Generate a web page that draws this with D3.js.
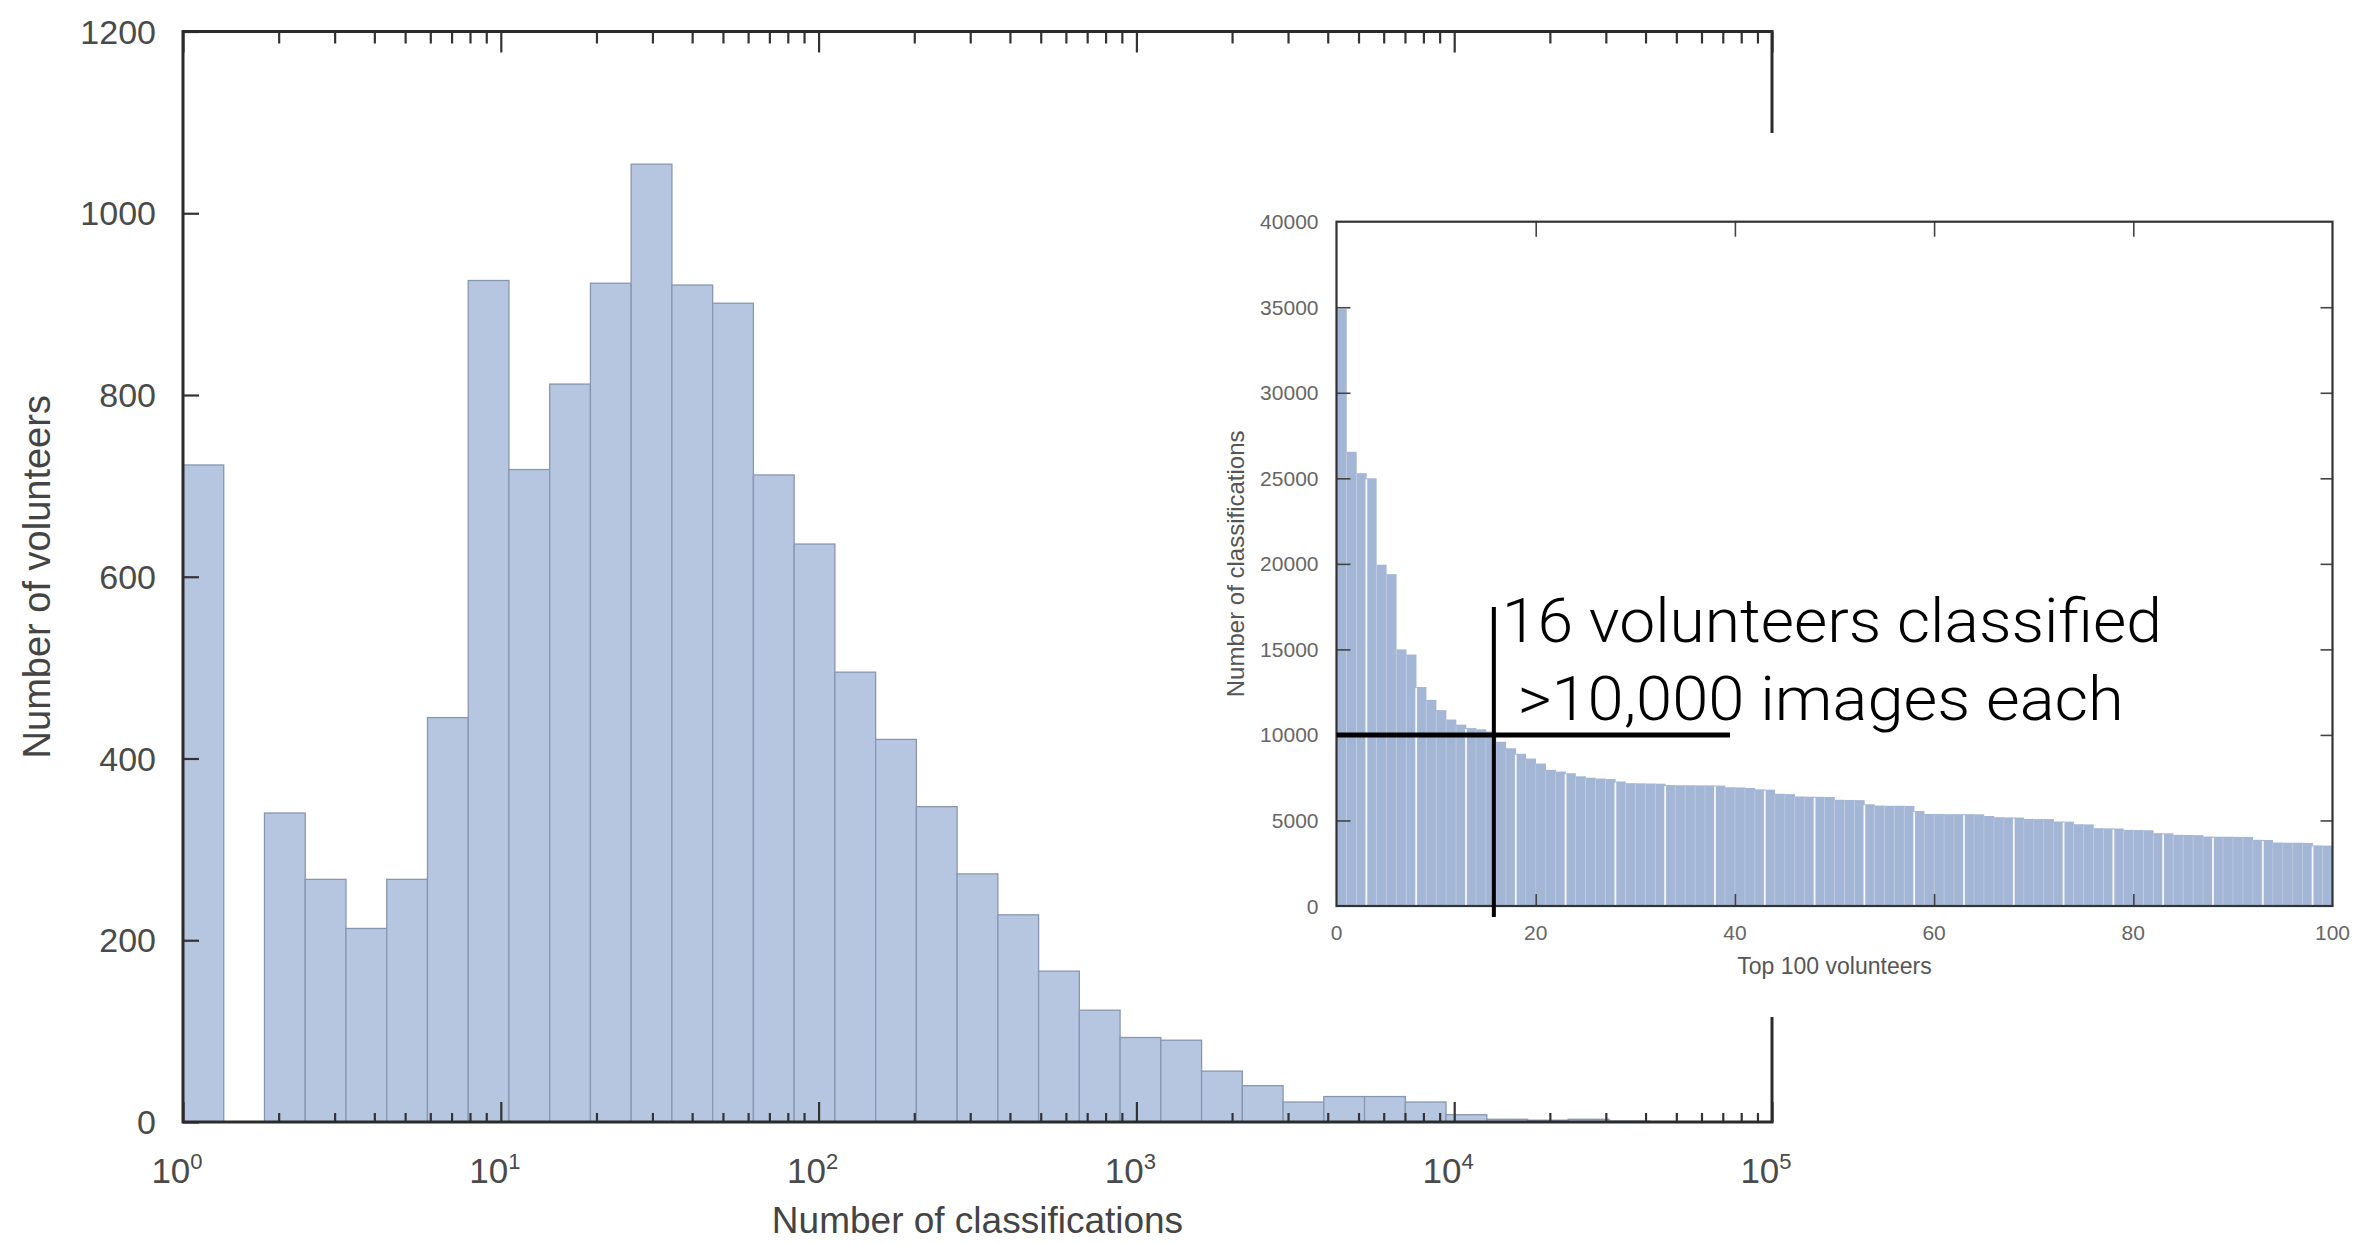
<!DOCTYPE html>
<html>
<head>
<meta charset="utf-8">
<script src="https://cdn.jsdelivr.net/npm/d3@7"></script>
<style>
  body { margin: 0; background: #fff; }
  svg { display: block; }
  .tick-label { font-family: 'Liberation Sans', Arial, sans-serif; fill: #4a4a4a; }
  .axis-title { font-family: 'Liberation Sans', Arial, sans-serif; fill: #444; }
  .note { font-family: Roboto, 'Liberation Sans', sans-serif; font-weight: 300; fill: #000; }
</style>
</head>
<body>
<div id="chart"></div>
<script>
// Histogram counts, one per log-spaced bin (39 bins from 10^0 to 10^5)
var volunteerCounts = [723, 0, 340, 267, 213, 267, 445, 926, 718, 812, 923, 1054, 921, 901,
  712, 636, 495, 421, 347, 273, 228, 166, 123, 93, 90, 56, 40, 22, 28, 28, 22, 8, 3, 2, 3, 1, 0, 0, 0];

// Classifications by the top 100 volunteers (inset)
var topVolunteers = [34900, 26550, 25300, 25000, 19950, 19400, 15000, 14700, 12800, 12050,
  11450, 10900, 10600, 10400, 10330, 10200, 9600, 9220, 8900, 8620,
  8330, 7960, 7860, 7760, 7580, 7500, 7450, 7420, 7280, 7180,
  7170, 7160, 7150, 7070, 7060, 7060, 7050, 7050, 7040, 6940,
  6930, 6900, 6820, 6800, 6560, 6540, 6400, 6390, 6380, 6370,
  6210, 6200, 6190, 5950, 5870, 5860, 5860, 5850, 5550, 5380,
  5380, 5370, 5370, 5370, 5360, 5260, 5190, 5180, 5170, 5090,
  5080, 5080, 4940, 4930, 4780, 4770, 4550, 4540, 4530, 4450,
  4440, 4430, 4260, 4250, 4160, 4150, 4140, 4060, 4050, 4050,
  4040, 4040, 3870, 3860, 3710, 3700, 3700, 3690, 3540, 3530];

// Tick labels
var mainYTicks = [0, 200, 400, 600, 800, 1000, 1200];
var mainXExponents = [0, 1, 2, 3, 4, 5];
var insetXTicks = [0, 20, 40, 60, 80, 100];
var insetYTicks = [0, 5000, 10000, 15000, 20000, 25000, 30000, 35000, 40000];

// Annotation
var noteLines = ['16 volunteers classified', ' >10,000 images each'];
var noteWidths = [660, 622];
var noteCount = 16;
var noteThreshold = 10000;

function init() {
  var w = 2370;
  var h = 1244;

  var svg = d3.select('#chart').append('svg').attr('width', w).attr('height', h);

  // ---------- Main histogram ----------
  var left = 183, right = 1772, top = 31.5, bottom = 1122;

  var xScale = d3.scaleLog().domain([1, 1e5]).range([left, right]);
  var yScale = d3.scaleLinear().domain([0, 1200]).range([bottom, top]);

  // bin edges: 40 log-spaced edges
  var nBins = volunteerCounts.length;
  var edges = d3.range(nBins + 1).map((i) => Math.pow(10, (i * 5) / nBins));

  var bins = volunteerCounts.map((c, i) => ({ x0: edges[i], x1: edges[i + 1], count: c }));

  svg.append('g')
    .selectAll('rect')
    .data(bins.filter((d) => d.count > 0))
    .enter()
    .append('rect')
    .attr('x', (d) => xScale(d.x0))
    .attr('width', (d) => xScale(d.x1) - xScale(d.x0))
    .attr('y', (d) => yScale(d.count))
    .attr('height', (d) => yScale(0) - yScale(d.count))
    .attr('fill', '#b6c6e1')
    .attr('stroke', '#8896b0')
    .attr('stroke-width', 1.3);

  // minor / major log ticks
  var majorX = mainXExponents.map((e) => Math.pow(10, e));
  var minorX = [];
  for (var e = 0; e < 5; e++) {
    for (var m = 2; m < 10; m++) minorX.push(m * Math.pow(10, e));
  }

  function tickGroup(axis, transform) {
    var g = svg.append('g').attr('transform', transform).call(axis);
    g.select('.domain').remove();
    g.selectAll('.tick line').attr('stroke', '#333').attr('stroke-width', 2.2);
    g.selectAll('.tick text').remove();
    return g;
  }

  tickGroup(d3.axisBottom(xScale).tickValues(majorX).tickSize(-20), `translate(0,${bottom})`);
  tickGroup(d3.axisBottom(xScale).tickValues(minorX).tickSize(-9), `translate(0,${bottom})`);
  tickGroup(d3.axisTop(xScale).tickValues(majorX).tickSize(-21), `translate(0,${top})`);
  tickGroup(d3.axisTop(xScale).tickValues(minorX).tickSize(-12), `translate(0,${top})`);
  tickGroup(d3.axisLeft(yScale).tickValues(mainYTicks).tickSize(-16), `translate(${left},0)`);

  // y tick labels
  svg.append('g')
    .selectAll('text')
    .data(mainYTicks)
    .enter()
    .append('text')
    .attr('class', 'tick-label')
    .attr('x', left - 27)
    .attr('y', (d) => yScale(d))
    .attr('dy', '0.36em')
    .attr('text-anchor', 'end')
    .style('font-size', '34px')
    .text((d) => d);

  // x tick labels 10^n
  var xl = svg.append('g')
    .selectAll('text')
    .data(mainXExponents)
    .enter()
    .append('text')
    .attr('class', 'tick-label')
    .attr('x', (d) => xScale(Math.pow(10, d)) - 6)
    .attr('y', 1183)
    .attr('text-anchor', 'middle')
    .style('font-size', '35px');
  xl.append('tspan').text('10');
  xl.append('tspan').attr('dy', -14).style('font-size', '22px').text((d) => d);

  // spines
  svg.append('rect')
    .attr('x', left).attr('y', top)
    .attr('width', right - left).attr('height', bottom - top)
    .attr('fill', 'none').attr('stroke', '#2b2b2b').attr('stroke-width', 3);

  // axis titles
  svg.append('text')
    .attr('class', 'axis-title')
    .attr('x', (left + right) / 2)
    .attr('y', 1233)
    .attr('text-anchor', 'middle')
    .style('font-size', '37px')
    .text('Number of classifications');

  svg.append('text')
    .attr('class', 'axis-title')
    .attr('transform', `translate(50,${(top + bottom) / 2}) rotate(-90)`)
    .attr('text-anchor', 'middle')
    .style('font-size', '38px')
    .text('Number of volunteers');

  // ---------- Inset ----------
  svg.append('rect')
    .attr('x', 1200).attr('y', 133)
    .attr('width', w - 1200).attr('height', 1017 - 133)
    .attr('fill', '#fff');

  var iLeft = 1336.5, iRight = 2332.5, iTop = 221.7, iBottom = 906;
  var ix = d3.scaleLinear().domain([0, 100]).range([iLeft, iRight]);
  var iy = d3.scaleLinear().domain([0, 40000]).range([iBottom, iTop]);
  var band = ix(1) - ix(0);

  var ig = svg.append('g');
  ig.selectAll('rect')
    .data(topVolunteers)
    .enter()
    .append('rect')
    .attr('x', (d, i) => ix(i))
    .attr('width', band + 0.3)
    .attr('y', (d) => iy(d))
    .attr('height', (d) => iy(0) - iy(d))
    .attr('fill', '#a4b6d6');

  // thin light seams between bars, brighter every fifth one
  ig.selectAll('line')
    .data(topVolunteers.slice(1))
    .enter()
    .append('line')
    .attr('x1', (d, i) => ix(i + 1))
    .attr('x2', (d, i) => ix(i + 1))
    .attr('y1', iBottom)
    .attr('y2', (d) => iy(d) + 1)
    .attr('stroke', '#fff')
    .attr('stroke-width', (d, i) => ((i + 1) % 5 === 3 ? 1.8 : 1))
    .attr('stroke-opacity', (d, i) => ((i + 1) % 5 === 3 ? 0.9 : 0.22));

  function insetTicks(axis, transform) {
    var g = svg.append('g').attr('transform', transform).call(axis);
    g.select('.domain').remove();
    g.selectAll('.tick line').attr('stroke', '#444').attr('stroke-width', 1.6);
    g.selectAll('.tick text').remove();
    return g;
  }
  var innerX = insetXTicks.slice(1, -1);
  var innerY = insetYTicks.slice(1, -1);
  insetTicks(d3.axisBottom(ix).tickValues(innerX).tickSize(-12), `translate(0,${iBottom})`);
  insetTicks(d3.axisTop(ix).tickValues(innerX).tickSize(-15), `translate(0,${iTop})`);
  insetTicks(d3.axisLeft(iy).tickValues(innerY).tickSize(-14), `translate(${iLeft},0)`);
  insetTicks(d3.axisRight(iy).tickValues(innerY).tickSize(-12), `translate(${iRight},0)`);

  svg.append('rect')
    .attr('x', iLeft).attr('y', iTop)
    .attr('width', iRight - iLeft).attr('height', iBottom - iTop)
    .attr('fill', 'none').attr('stroke', '#333').attr('stroke-width', 2.2);

  svg.append('g')
    .selectAll('text')
    .data(insetYTicks)
    .enter()
    .append('text')
    .attr('class', 'tick-label')
    .attr('x', iLeft - 18)
    .attr('y', (d) => iy(d))
    .attr('dy', '0.36em')
    .attr('text-anchor', 'end')
    .style('font-size', '21px')
    .style('fill', '#666')
    .text((d) => d);

  svg.append('g')
    .selectAll('text')
    .data(insetXTicks)
    .enter()
    .append('text')
    .attr('class', 'tick-label')
    .attr('x', (d) => ix(d))
    .attr('y', 940)
    .attr('text-anchor', 'middle')
    .style('font-size', '21px')
    .style('fill', '#666')
    .text((d) => d);

  svg.append('text')
    .attr('class', 'axis-title')
    .attr('x', (iLeft + iRight) / 2)
    .attr('y', 974)
    .attr('text-anchor', 'middle')
    .style('font-size', '23px')
    .style('fill', '#555')
    .text('Top 100 volunteers');

  svg.append('text')
    .attr('class', 'axis-title')
    .attr('transform', `translate(1244,${(iTop + iBottom) / 2}) rotate(-90)`)
    .attr('text-anchor', 'middle')
    .style('font-size', '24px')
    .style('fill', '#555')
    .text('Number of classifications');

  // ---------- Annotation ----------
  var vx = ix(noteCount) - 2;
  svg.append('line')
    .attr('x1', vx).attr('x2', vx)
    .attr('y1', 607).attr('y2', 917)
    .attr('stroke', '#000').attr('stroke-width', 4);

  svg.append('line')
    .attr('x1', iLeft).attr('x2', 1730)
    .attr('y1', iy(noteThreshold)).attr('y2', iy(noteThreshold))
    .attr('stroke', '#000').attr('stroke-width', 5);

  svg.append('g')
    .selectAll('text')
    .data(noteLines)
    .enter()
    .append('text')
    .attr('class', 'note')
    .attr('x', vx + 8)
    .attr('y', (d, i) => 642 + i * 78)
    .attr('textLength', (d, i) => noteWidths[i])
    .attr('lengthAdjust', 'spacingAndGlyphs')
    .style('font-size', '62px')
    .style('white-space', 'pre')
    .text((d) => d);
}

window.onload = init;
</script>
</body>
</html>
